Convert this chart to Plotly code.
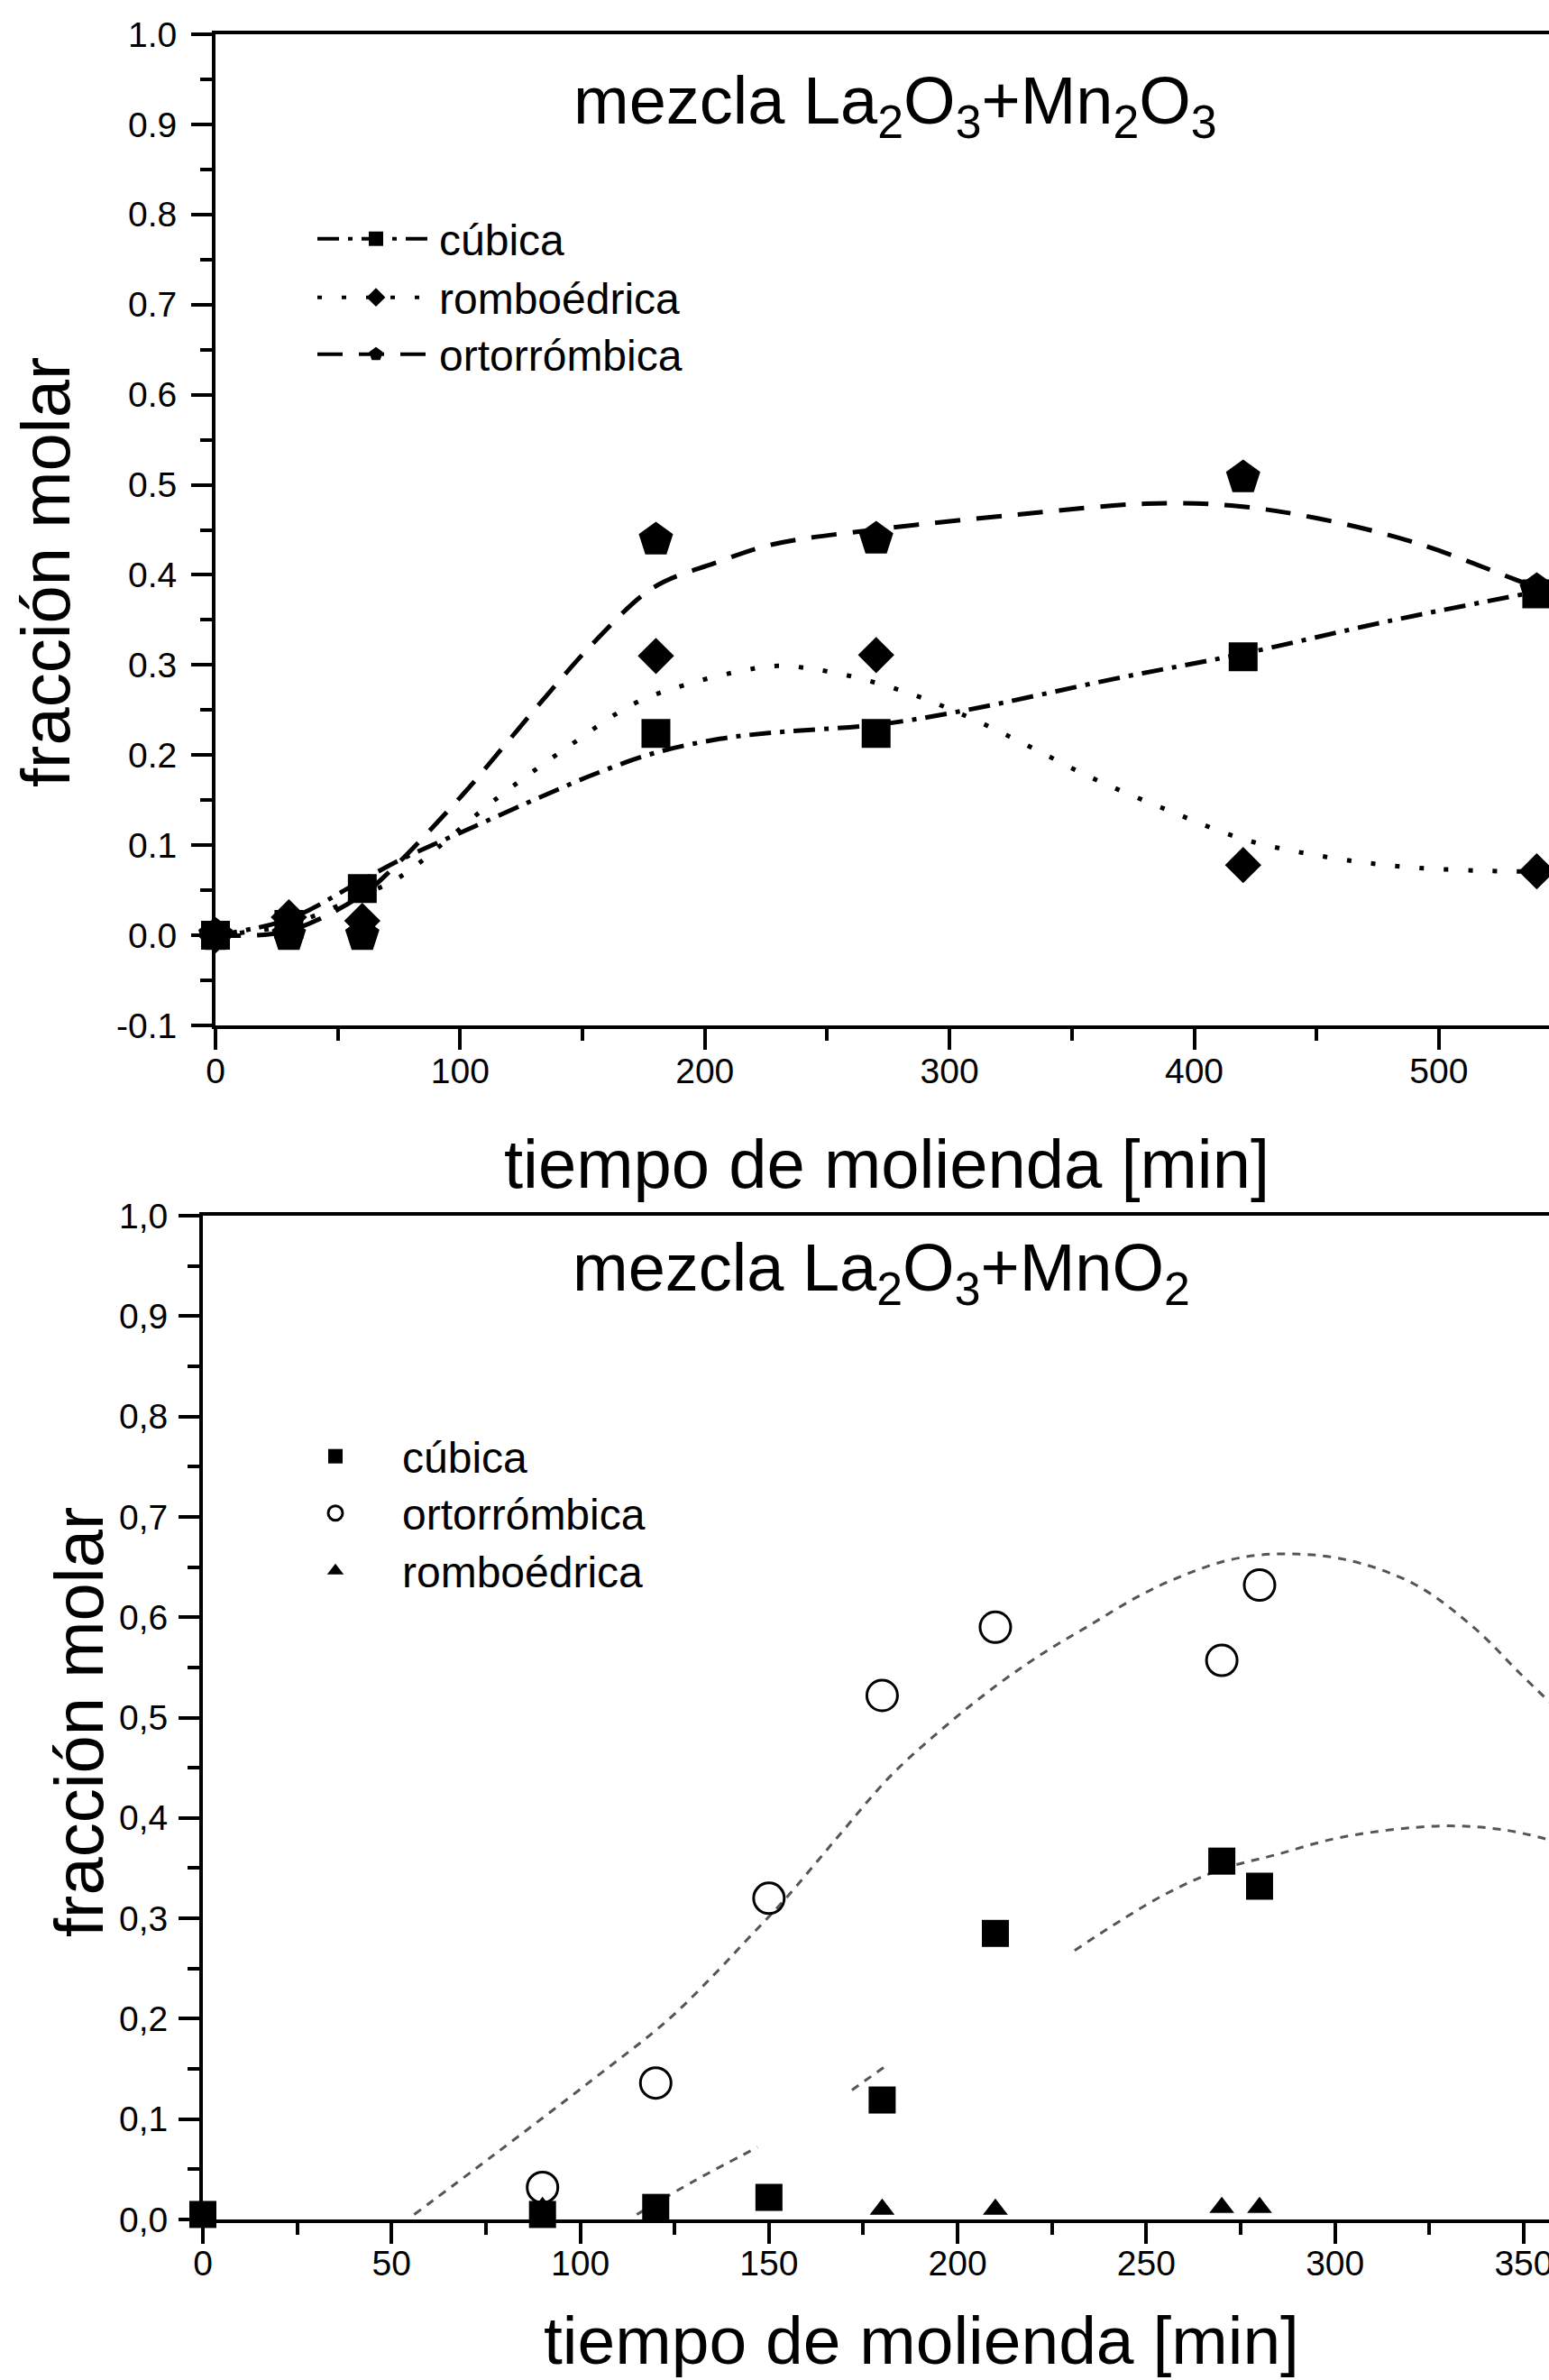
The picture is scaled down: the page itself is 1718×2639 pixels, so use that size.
import plotly.graph_objects as go

# ---------------- data: top panel (La2O3 + Mn2O3) ----------------
t_top = [0, 30, 60, 180, 270, 420, 540]
cub_top = [0.0, 0.012, 0.052, 0.224, 0.224, 0.309, 0.379]
rom_top = [0.0, 0.02, 0.016, 0.310, 0.311, 0.078, 0.071]
ort_top = [0.0, 0.0, 0.0, 0.439, 0.440, 0.508, 0.383]

# fitted curves
cub_fit_t = [0, 30, 58, 75, 101, 135, 155, 179, 206, 228, 271, 307, 368, 419, 480, 545]
cub_fit_v = [0.0, 0.018, 0.058, 0.083, 0.115, 0.156, 0.179, 0.202, 0.218, 0.225, 0.234, 0.25, 0.285, 0.312, 0.349, 0.384]
rom_fit_t = [0, 30, 60, 75, 115, 145, 171, 192, 216, 230, 252, 281, 307, 328, 358, 390, 421, 454, 486, 527, 545]
rom_fit_v = [0.0, 0.012, 0.045, 0.064, 0.152, 0.211, 0.257, 0.278, 0.294, 0.299, 0.292, 0.271, 0.243, 0.216, 0.175, 0.138, 0.106, 0.087, 0.076, 0.071, 0.071]
ort_fit_t = [0, 30, 60, 72, 101, 117, 135, 155, 179, 204, 228, 272, 328, 380, 415, 450, 490, 531, 545]
ort_fit_v = [0.0, 0.005, 0.045, 0.073, 0.156, 0.207, 0.265, 0.326, 0.386, 0.413, 0.434, 0.451, 0.467, 0.479, 0.477, 0.463, 0.436, 0.395, 0.38]

# ---------------- data: bottom panel (La2O3 + MnO2) ----------------
t_cub_b = [0, 90, 120, 150, 180, 210, 270, 280, 360]
cub_b = [0.005, 0.005, 0.012, 0.022, 0.119, 0.285, 0.357, 0.332, 0.371]
t_ort_b = [90, 120, 150, 180, 210, 270, 280, 360]
ort_b = [0.032, 0.136, 0.32, 0.522, 0.59, 0.557, 0.632, 0.518]
t_rom_b = [90, 180, 210, 270, 280]
rom_b = [0.012, 0.01, 0.01, 0.012, 0.012]

ort_fit_b_t = [56, 77, 103.5, 123, 136, 145, 154, 168, 182, 196, 211, 223, 235, 248, 260, 272, 284, 302, 321, 337, 349, 357]
ort_fit_b_v = [0.005, 0.064, 0.14, 0.198, 0.246, 0.282, 0.318, 0.38, 0.441, 0.489, 0.534, 0.565, 0.592, 0.621, 0.642, 0.657, 0.663, 0.658, 0.633, 0.589, 0.544, 0.515]
cub_fit_b_t = [115, 130, 147, None, 172, 181, None, 231, 254, 270, 284, 302, 328, 345, 357]
cub_fit_b_v = [0.005, 0.038, 0.072, None, 0.129, 0.153, None, 0.268, 0.322, 0.349, 0.363, 0.381, 0.392, 0.388, 0.378]

# ticks
x_ticks_top = [0, 100, 200, 300, 400, 500]
x_minor_top = [50, 150, 250, 350, 450]
y_ticks_top = [-0.1, 0.0, 0.1, 0.2, 0.3, 0.4, 0.5, 0.6, 0.7, 0.8, 0.9, 1.0]
y_labels_top = ["-0.1", "0.0", "0.1", "0.2", "0.3", "0.4", "0.5", "0.6", "0.7", "0.8", "0.9", "1.0"]
y_minor_top = [-0.05, 0.05, 0.15, 0.25, 0.35, 0.45, 0.55, 0.65, 0.75, 0.85, 0.95]
x_ticks_bot = [0, 50, 100, 150, 200, 250, 300, 350]
x_minor_bot = [25, 75, 125, 175, 225, 275, 325]
y_ticks_bot = [0.0, 0.1, 0.2, 0.3, 0.4, 0.5, 0.6, 0.7, 0.8, 0.9, 1.0]
y_labels_bot = ["0,0", "0,1", "0,2", "0,3", "0,4", "0,5", "0,6", "0,7", "0,8", "0,9", "1,0"]
y_minor_bot = [0.05, 0.15, 0.25, 0.35, 0.45, 0.55, 0.65, 0.75, 0.85, 0.95]

names_top = ["cúbica", "romboédrica", "ortorrómbica"]
names_bot = ["cúbica", "ortorrómbica", "romboédrica"]

W, H = 1718, 2639
FONT = "Liberation Sans, Arial, sans-serif"

def fx(p):
    return p / W

def fy(p):
    return 1 - p / H

DASH_CUB = "24px,10px,5px,10px"
DASH_ROM = "5px,22px"
DASH_ORT = "28px,18px"

fig = go.Figure()

# ---- top panel curves ----
fig.add_trace(go.Scatter(x=cub_fit_t, y=cub_fit_v, mode="lines", line=dict(color="black", width=5, dash=DASH_CUB, shape="spline"), showlegend=False, xaxis="x", yaxis="y"))
fig.add_trace(go.Scatter(x=rom_fit_t, y=rom_fit_v, mode="lines", line=dict(color="black", width=5, dash=DASH_ROM, shape="spline"), showlegend=False, xaxis="x", yaxis="y"))
fig.add_trace(go.Scatter(x=ort_fit_t, y=ort_fit_v, mode="lines", line=dict(color="black", width=5, dash=DASH_ORT, shape="spline"), showlegend=False, xaxis="x", yaxis="y"))

# ---- top panel markers ----
fig.add_trace(go.Scatter(x=t_top, y=ort_top, mode="markers", marker=dict(symbol="pentagon", size=40, color="black"), cliponaxis=False, showlegend=False, xaxis="x", yaxis="y"))
fig.add_trace(go.Scatter(x=t_top, y=rom_top, mode="markers", marker=dict(symbol="diamond", size=31, color="black"), cliponaxis=False, showlegend=False, xaxis="x", yaxis="y"))
fig.add_trace(go.Scatter(x=t_top, y=cub_top, mode="markers", marker=dict(symbol="square", size=32, color="black"), cliponaxis=False, showlegend=False, xaxis="x", yaxis="y"))

# ---- top legend entries (no data), one legend box per row ----
for i, (nm, dash, sym) in enumerate(zip(names_top, [DASH_CUB, DASH_ROM, DASH_ORT], ["square", "diamond", "pentagon"])):
    fig.add_trace(go.Scatter(x=[None], y=[None], mode="lines+markers", name=nm,
                             line=dict(color="black", width=4, dash=dash),
                             marker=dict(symbol=sym, size=16, color="black"),
                             legend="legend" if i == 0 else "legend%d" % (i + 1), xaxis="x", yaxis="y"))

# ---- bottom panel curves ----
fig.add_trace(go.Scatter(x=ort_fit_b_t, y=ort_fit_b_v, mode="lines", line=dict(color="#555555", width=3, dash="9px,8px", shape="spline"), showlegend=False, xaxis="x2", yaxis="y2"))
fig.add_trace(go.Scatter(x=cub_fit_b_t, y=cub_fit_b_v, mode="lines", connectgaps=False, line=dict(color="#555555", width=3, dash="9px,8px", shape="spline"), showlegend=False, xaxis="x2", yaxis="y2"))

# ---- bottom panel markers ----
fig.add_trace(go.Scatter(x=t_cub_b, y=cub_b, mode="markers", name=names_bot[0], marker=dict(symbol="square", size=30, color="black"), cliponaxis=False, legend="legend4", xaxis="x2", yaxis="y2"))
fig.add_trace(go.Scatter(x=t_ort_b, y=ort_b, mode="markers", name=names_bot[1], marker=dict(symbol="circle-open", size=34, color="black", line=dict(width=3, color="black")), cliponaxis=False, legend="legend5", xaxis="x2", yaxis="y2"))
fig.add_trace(go.Scatter(x=t_rom_b, y=rom_b, mode="markers", name=names_bot[2], marker=dict(symbol="triangle-up", size=24, color="black"), cliponaxis=False, legend="legend6", xaxis="x2", yaxis="y2"))

axis_common = dict(showgrid=False, zeroline=False, showline=True, linecolor="black", linewidth=4,
                   ticks="outside", ticklen=23, tickwidth=4, tickcolor="black", automargin=False,
                   ticklabeloverflow="allow",
                   tickfont=dict(family=FONT, size=39, color="black"))
minor_common = dict(ticks="outside", ticklen=13, tickwidth=4, tickcolor="black", showgrid=False)

LEG_FONT = dict(family=FONT, size=48, color="black")

def leg(xpx, row_center, width):
    return dict(x=fx(xpx), y=fy(row_center - 38), xanchor="left", yanchor="top",
                bgcolor="rgba(0,0,0,0)", borderwidth=0, itemwidth=width, font=LEG_FONT)

fig.update_layout(
    template="none",
    width=W, height=H, margin=dict(l=0, r=0, t=0, b=0, pad=0, autoexpand=False),
    paper_bgcolor="white", plot_bgcolor="white",
    font=dict(family=FONT, color="black"),
    xaxis=dict(domain=[fx(239), 1], range=[0, 545], anchor="y", mirror=True,
               tickmode="array", tickvals=x_ticks_top, ticklabelstandoff=-10,
               minor=dict(tickmode="array", tickvals=x_minor_top, **minor_common),
               **axis_common),
    yaxis=dict(domain=[fy(1137), fy(38)], range=[-0.1, 1.0], anchor="x",
               tickmode="array", tickvals=y_ticks_top, ticktext=y_labels_top, ticklabelstandoff=8,
               minor=dict(tickmode="array", tickvals=y_minor_top, **minor_common),
               **axis_common),
    xaxis2=dict(domain=[fx(225), 1], range=[0, 356.7], anchor="y2", mirror=True,
                tickmode="array", tickvals=x_ticks_bot, ticklabelstandoff=-12,
                minor=dict(tickmode="array", tickvals=x_minor_bot, **minor_common),
                **axis_common),
    yaxis2=dict(domain=[fy(2461), fy(1348)], range=[0.0, 1.0], anchor="x2",
                tickmode="array", tickvals=y_ticks_bot, ticktext=y_labels_bot, ticklabelstandoff=4,
                minor=dict(tickmode="array", tickvals=y_minor_bot, **minor_common),
                **axis_common),
    legend=leg(347, 265, 130),
    legend2=leg(347, 330, 130),
    legend3=leg(347, 393, 130),
    legend4=leg(298, 1615, 138),
    legend5=leg(298, 1678, 138),
    legend6=leg(298, 1742, 138),
)

annots = [
    dict(text="mezcla La<sub>2</sub>O<sub>3</sub>+Mn<sub>2</sub>O<sub>3</sub>", x=fx(993), y=fy(68), xanchor="center", yanchor="top", font=dict(size=74)),
    dict(text="mezcla La<sub>2</sub>O<sub>3</sub>+MnO<sub>2</sub>", x=fx(977), y=fy(1362), xanchor="center", yanchor="top", font=dict(size=74)),
    dict(text="tiempo de molienda [min]", x=fx(983), y=fy(1291), xanchor="center", yanchor="middle", font=dict(size=76)),
    dict(text="tiempo de molienda [min]", x=fx(1022), y=fy(2595), xanchor="center", yanchor="middle", font=dict(size=75)),
    dict(text="fracción molar", x=fx(50), y=fy(635), xanchor="center", yanchor="middle", textangle=-90, font=dict(size=76)),
    dict(text="fracción molar", x=fx(87), y=fy(1910), xanchor="center", yanchor="middle", textangle=-90, font=dict(size=76)),
]
for a in annots:
    a.update(xref="paper", yref="paper", showarrow=False)
    a["font"].update(family=FONT, color="black")
    fig.add_annotation(**a)

fig.write_html("out.html")
